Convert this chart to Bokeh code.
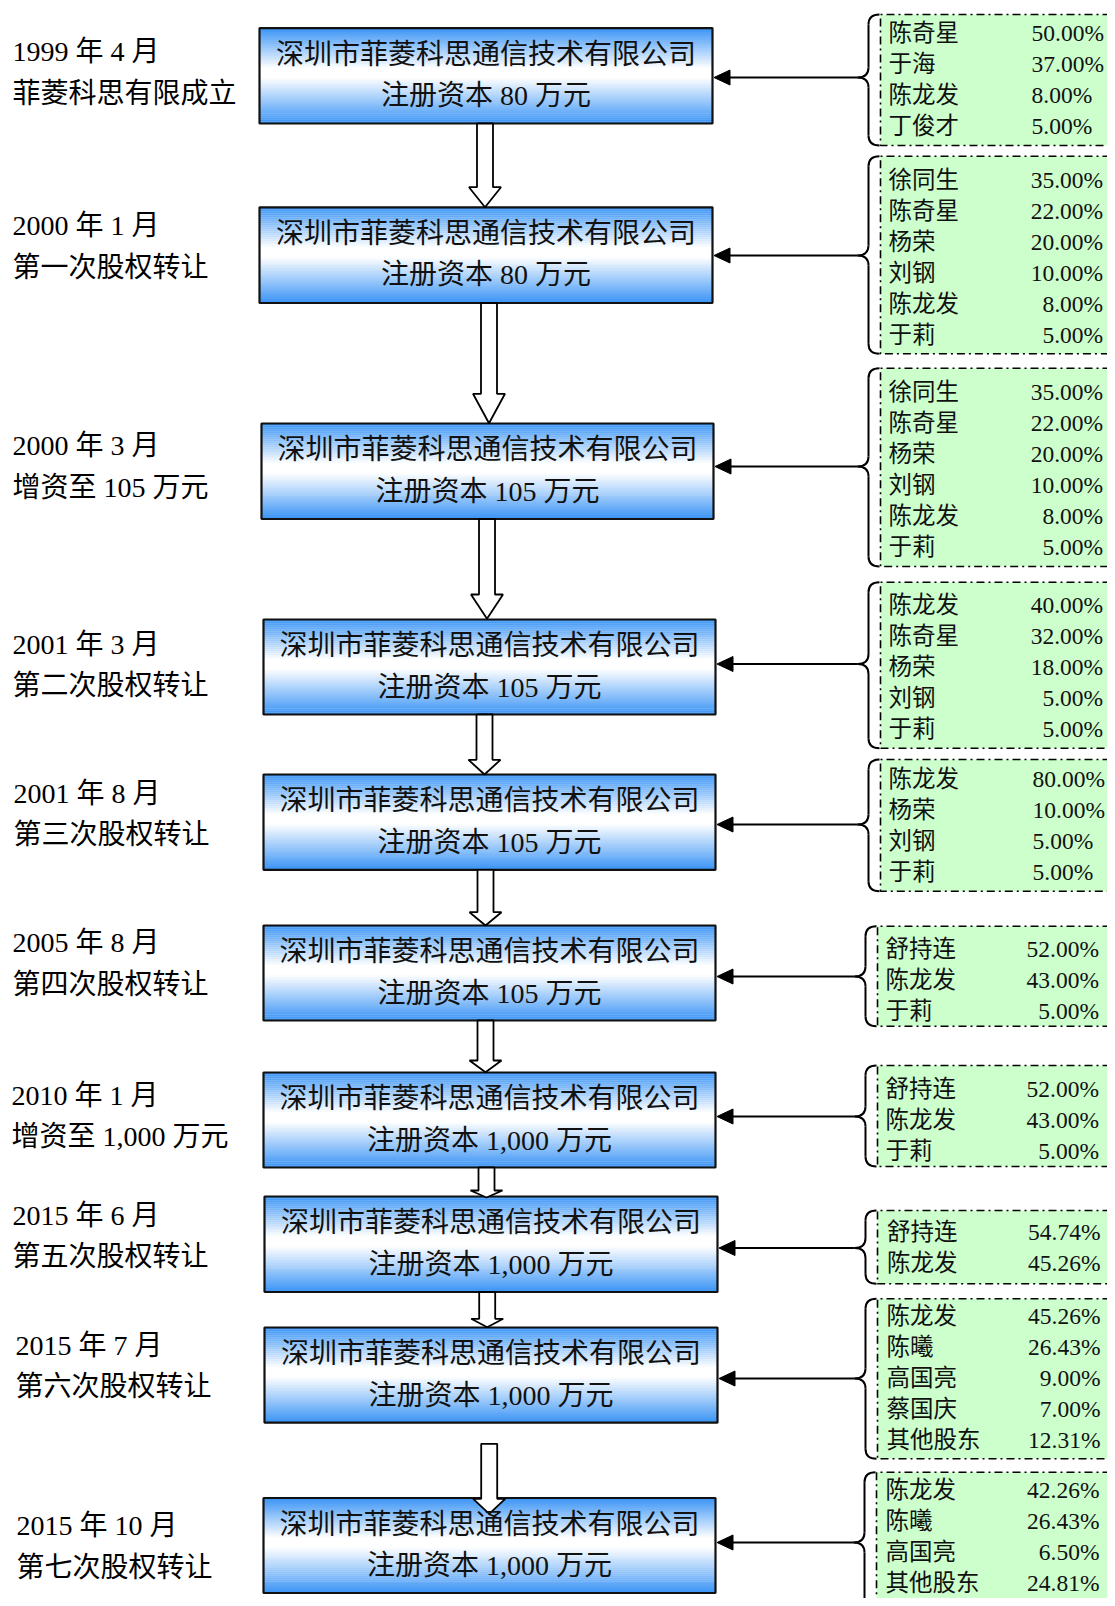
import numpy as np
from bokeh.plotting import figure
from bokeh.models import Range1d
from bokeh.core.properties import value
from bokeh.embed import file_html
from bokeh.resources import INLINE

# ---------------- data ----------------
dates = ["1999 年 4 月", "2000 年 1 月", "2000 年 3 月", "2001 年 3 月", "2001 年 8 月",
         "2005 年 8 月", "2010 年 1 月", "2015 年 6 月", "2015 年 7 月", "2015 年 10 月"]
events = ["菲菱科思有限成立", "第一次股权转让", "增资至 105 万元", "第二次股权转让", "第三次股权转让",
          "第四次股权转让", "增资至 1,000 万元", "第五次股权转让", "第六次股权转让", "第七次股权转让"]
company_name = "深圳市菲菱科思通信技术有限公司"
capital_wan = [80, 80, 105, 105, 105, 105, 1000, 1000, 1000, 1000]
holders = [
    ["陈奇星", "于海", "陈龙发", "丁俊才"],
    ["徐同生", "陈奇星", "杨荣", "刘钢", "陈龙发", "于莉"],
    ["徐同生", "陈奇星", "杨荣", "刘钢", "陈龙发", "于莉"],
    ["陈龙发", "陈奇星", "杨荣", "刘钢", "于莉"],
    ["陈龙发", "杨荣", "刘钢", "于莉"],
    ["舒持连", "陈龙发", "于莉"],
    ["舒持连", "陈龙发", "于莉"],
    ["舒持连", "陈龙发"],
    ["陈龙发", "陈曦", "高国亮", "蔡国庆", "其他股东"],
    ["陈龙发", "陈曦", "高国亮", "其他股东"],
]
stakes = [
    [50.00, 37.00, 8.00, 5.00],
    [35.00, 22.00, 20.00, 10.00, 8.00, 5.00],
    [35.00, 22.00, 20.00, 10.00, 8.00, 5.00],
    [40.00, 32.00, 18.00, 5.00, 5.00],
    [80.00, 10.00, 5.00, 5.00],
    [52.00, 43.00, 5.00],
    [52.00, 43.00, 5.00],
    [54.74, 45.26],
    [45.26, 26.43, 9.00, 7.00, 12.31],
    [42.26, 26.43, 6.50, 24.81],
]

# ---------------- layout (page pixels) ----------------
box_left = [259, 259, 261, 263, 263, 263, 263, 264, 264, 263]
box_right = [712, 712, 713, 715, 715, 715, 715, 717, 717, 715]
box_top = [27.6, 206.8, 423, 619, 774, 925, 1072, 1196, 1327, 1497.5]
box_bot = [123, 302.5, 518.5, 714, 869.3, 1020, 1167, 1291.5, 1422.2, 1592.5]

label_x = [12, 12, 12, 12, 13, 12, 11, 12, 15, 16]
label_y = [51, 225, 445, 643.5, 792.5, 942, 1094.5, 1214.5, 1344.5, 1525]
label_gap = 41.5

flow_cx = [484.5, 488.5, 486.5, 484, 485, 485, 486, 486.7, 488.7]
flow_top = [123, 302.5, 518.5, 714, 869.3, 1020, 1167, 1291.5, 1443.3]
flow_head = [186.7, 393.3, 594, 759.3, 911.7, 1060, 1190, 1318.3, 1498.3]
flow_tip = [206.7, 422.7, 618.3, 774, 925, 1071.7, 1197, 1326.7, 1513.3]

green_left = [880, 880, 880, 880, 880, 877, 877, 877, 877, 876]
green_top = [14, 155.7, 367.7, 581.7, 759, 925.7, 1065, 1210, 1298.3, 1471.7]
green_bot = [145, 353.3, 566, 747.7, 890.7, 1025.7, 1166, 1283.3, 1458.3, 1640]
row_y0 = [32.3, 179, 391.7, 604, 778.3, 948.3, 1088.3, 1231.7, 1315, 1489]
row_step = 31
link_y = [77, 255, 466, 663.5, 824, 976, 1116, 1247.5, 1378, 1542]
name_x = [888, 888, 888, 888, 888, 885, 885, 886.5, 886, 885]
pct_x = [1031, 1102.7, 1102.7, 1102.7, 1032, 1098.5, 1098.5, 1100, 1100, 1099]
pct_align = ["left", "right", "right", "right", "left", "right", "right", "right", "right", "right"]

FONT = value("'Liberation Serif', 'Noto Sans CJK SC'")
BLUE = np.array([58, 148, 246])
WHITE = np.array([255, 255, 255])

W, H = 1107, 1598
p = figure(width=W, height=H, x_range=Range1d(0, W), y_range=Range1d(H, 0),
           output_backend="svg", toolbar_location=None,
           x_axis_location=None, y_axis_location=None, min_border=0)
p.grid.visible = False
p.outline_line_color = None
p.background_fill_color = "white"
p.border_fill_color = "white"

# ---- blue gradient boxes ----
N = 48
ql, qr, qt, qb, qc = [], [], [], [], []
for i in range(len(box_left)):
    edges = np.linspace(box_top[i], box_bot[i], N + 1)
    for k in range(N):
        t = (k + 0.5) / N
        if t < 0.42:
            f = t / 0.42
            c = BLUE + (WHITE - BLUE) * f
        elif t < 0.52:
            c = WHITE
        else:
            f = (t - 0.52) / 0.48
            c = WHITE + (BLUE - WHITE) * f
        c = c.astype(int)
        ql.append(box_left[i]); qr.append(box_right[i])
        qt.append(edges[k]); qb.append(edges[k + 1] + 0.3)
        qc.append("#%02x%02x%02x" % tuple(c))
p.quad(left=ql, right=qr, top=qt, bottom=qb, fill_color=qc, line_color=None)
p.quad(left=box_left, right=box_right, top=box_top, bottom=box_bot,
       fill_color=None, line_color="#111111", line_width=2.2)

# ---- green shareholder boxes ----
p.quad(left=green_left, right=[1200] * 10, top=green_top, bottom=green_bot,
       fill_color="#ccffcc", line_color=None)
bx, by = [], []
for i in range(10):
    bx.append([1200, green_left[i], green_left[i], 1200])
    by.append([green_top[i], green_top[i], green_bot[i], green_bot[i]])
p.multi_line(bx, by, line_color="black", line_width=1.6, line_dash="8 4 2 4")

# ---- braces ----
qx0, qy0, qx1, qy1, qcx, qcy = [], [], [], [], [], []
sx0, sy0, sx1, sy1 = [], [], [], []
for i in range(10):
    xr = green_left[i] - 1
    xv = green_left[i] - 12
    xt = green_left[i] - 23
    T, B, M = green_top[i], green_bot[i], link_y[i]
    r = 10
    qx0.append(xr); qy0.append(T); qx1.append(xv); qy1.append(T + r); qcx.append(xv); qcy.append(T)
    qx0.append(xv); qy0.append(M - r); qx1.append(xt); qy1.append(M); qcx.append(xv); qcy.append(M)
    qx0.append(xt); qy0.append(M); qx1.append(xv); qy1.append(M + r); qcx.append(xv); qcy.append(M)
    qx0.append(xv); qy0.append(B - r); qx1.append(xr); qy1.append(B); qcx.append(xv); qcy.append(B)
    sx0 += [xv, xv]; sy0 += [T + r, M + r]; sx1 += [xv, xv]; sy1 += [M - r, B - r]
p.quadratic(x0=qx0, y0=qy0, x1=qx1, y1=qy1, cx=qcx, cy=qcy, line_color="black", line_width=2)
p.segment(x0=sx0, y0=sy0, x1=sx1, y1=sy1, line_color="black", line_width=2)

# ---- left-pointing arrows ----
lx0, ly, lx1 = [], [], []
hx, hy = [], []
for i in range(10):
    tip = box_right[i] + 1.5
    base = tip + 16
    lx0.append(green_left[i] - 23); lx1.append(base); ly.append(link_y[i])
    hx.append([tip, base, base]); hy.append([link_y[i], link_y[i] - 7.5, link_y[i] + 7.5])
p.segment(x0=lx0, y0=ly, x1=lx1, y1=ly, line_color="black", line_width=2)
p.patches(hx, hy, fill_color="black", line_color="black", line_width=1)

# ---- hollow flow arrows ----
ax, ay = [], []
for i in range(len(flow_cx)):
    c = flow_cx[i]
    ax.append([c - 8, c + 8, c + 8, c + 16, c, c - 16, c - 8])
    ay.append([flow_top[i], flow_top[i], flow_head[i], flow_head[i], flow_tip[i], flow_head[i], flow_head[i]])
p.patches(ax, ay, fill_color="white", line_color="black", line_width=1.8)

# ---- texts ----
p.text(x=label_x, y=label_y, text=dates, text_font=FONT, text_font_size="28px",
       text_baseline="middle", text_align="left", text_color="black")
p.text(x=label_x, y=[v + label_gap for v in label_y], text=events, text_font=FONT,
       text_font_size="28px", text_baseline="middle", text_align="left", text_color="black")

bcx = [(a + b) / 2 for a, b in zip(box_left, box_right)]
p.text(x=bcx, y=[t + 26 for t in box_top], text=[company_name] * 10, text_font=FONT,
       text_font_size="28px", text_baseline="middle", text_align="center", text_color="#111111")
p.text(x=bcx, y=[t + 67.5 for t in box_top], text=[f"注册资本 {c:,} 万元" for c in capital_wan],
       text_font=FONT, text_font_size="28px", text_baseline="middle", text_align="center",
       text_color="#111111")

nx, ny, nt = [], [], []
px_l, py_l, pt_l = [], [], []
px_r, py_r, pt_r = [], [], []
for i in range(10):
    for k, (nm, v) in enumerate(zip(holders[i], stakes[i])):
        y = row_y0[i] + k * row_step
        nx.append(name_x[i]); ny.append(y); nt.append(nm)
        if pct_align[i] == "left":
            px_l.append(pct_x[i]); py_l.append(y); pt_l.append(f"{v:.2f}%")
        else:
            px_r.append(pct_x[i]); py_r.append(y); pt_r.append(f"{v:.2f}%")
p.text(x=nx, y=ny, text=nt, text_font=FONT, text_font_size="23.5px",
       text_baseline="middle", text_align="left", text_color="#111111")
p.text(x=px_l, y=py_l, text=pt_l, text_font=FONT, text_font_size="23.5px",
       text_baseline="middle", text_align="left", text_color="#111111")
p.text(x=px_r, y=py_r, text=pt_r, text_font=FONT, text_font_size="23.5px",
       text_baseline="middle", text_align="right", text_color="#111111")

open("out.html", "w").write(file_html(p, INLINE))
